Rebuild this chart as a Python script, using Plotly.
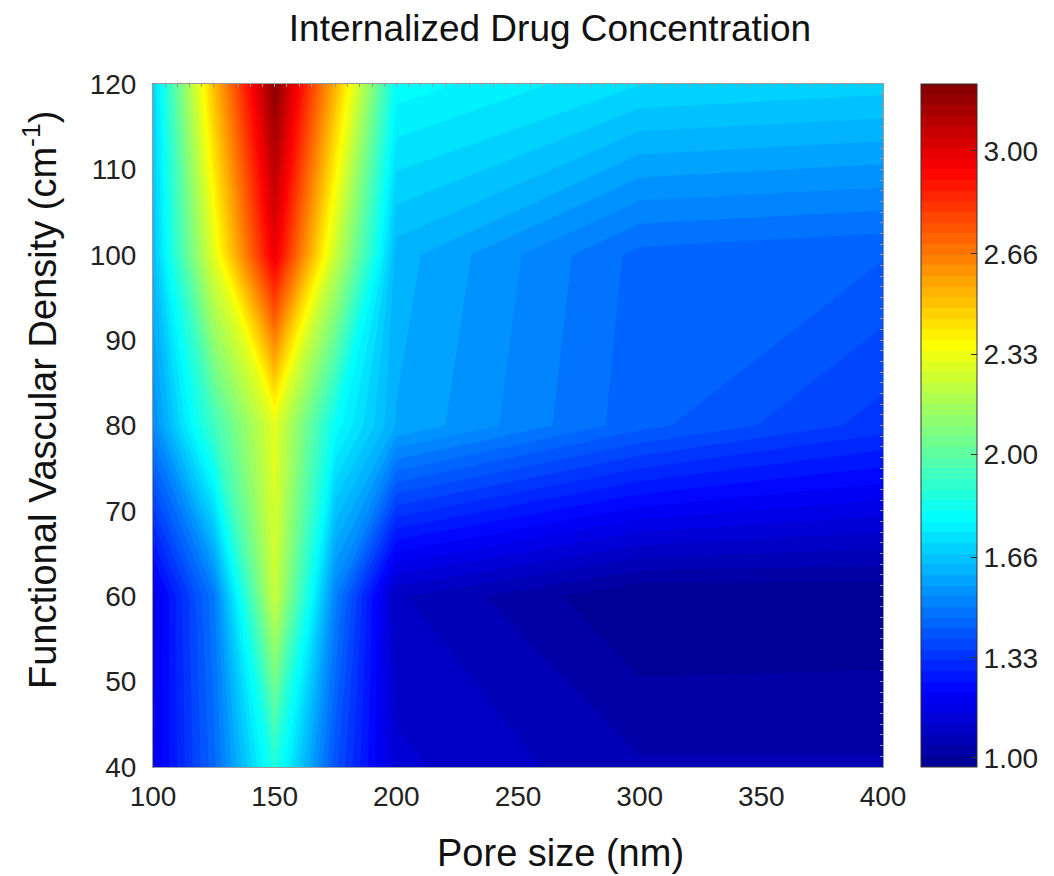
import plotly.graph_objects as go

# Grid of simulated results
pore_size = [100, 125, 150, 175, 200, 300, 400]          # nm
vascular_density = [40, 60, 80, 100, 120]               # cm^-1

# Internalized drug concentration, one row per vascular density
conc_40 = [1.18, 1.45, 1.86, 1.40, 1.12, 1.045, 1.045]
conc_60 = [1.165, 1.49, 2.24, 1.51, 1.08, 0.97, 0.975]
conc_80 = [1.53, 1.93, 2.30, 1.80, 1.60, 1.44, 1.34]
conc_100 = [1.645, 2.30, 2.98, 2.24, 1.62, 1.45, 1.43]
conc_120 = [1.69, 2.51, 3.20, 2.53, 1.80, 1.71, 1.69]

cbar_ticks = [1.00, 1.33, 1.66, 2.00, 2.33, 2.66, 3.00]
cbar_labels = ["1.00", "1.33", "1.66", "2.00", "2.33", "2.66", "3.00"]

z = [conc_40, conc_60, conc_80, conc_100, conc_120]

zmin, zmax = 0.97, 3.22
n_levels = 64

# MATLAB-style jet colormap
jet = [
    [0.0, "rgb(0,0,143)"],
    [0.111, "rgb(0,0,255)"],
    [0.365, "rgb(0,255,255)"],
    [0.619, "rgb(255,255,0)"],
    [0.873, "rgb(255,0,0)"],
    [1.0, "rgb(128,0,0)"],
]

FONT = "Liberation Sans, Arial, sans-serif"
EDGE = "#9a9a9a"

# plot area in pixels
L, R, T, B = 153, 883, 84, 767
W, H = 1054, 876
pw, ph = R - L, B - T

fig = go.Figure()
fig.add_trace(
    go.Contour(
        x=pore_size,
        y=vascular_density,
        z=z,
        colorscale=jet,
        zmin=zmin,
        zmax=zmax,
        autocontour=False,
        contours=dict(start=zmin, end=zmax, size=(zmax - zmin) / n_levels,
                      coloring="fill", showlines=False),
        line=dict(width=0, smoothing=0),
        colorbar=dict(
            x=(921 - L) / pw, xanchor="left", xref="paper",
            y=0, yanchor="bottom", len=1, lenmode="fraction", ypad=0, xpad=0,
            thickness=56, thicknessmode="pixels",
            outlinecolor="#333333", outlinewidth=1,
            tickvals=cbar_ticks, ticktext=cbar_labels,
            ticks="inside", ticklen=6, tickcolor="#333333",
            tickfont=dict(family=FONT, size=28, color="#222222"),
        ),
        showscale=True,
    )
)
# empty trace carrying the top/right frame axes with small inward ticks
fig.add_trace(go.Scatter(x=[], y=[], xaxis="x2", yaxis="y2", showlegend=False,
                         hoverinfo="skip"))

fig.update_layout(
    width=W,
    height=H,
    margin=dict(l=L, r=W - R, t=T, b=H - B, autoexpand=False),
    paper_bgcolor="white",
    plot_bgcolor="white",
    font=dict(family=FONT, color="#111111"),
    title=dict(text="Internalized Drug Concentration", x=550 / W, xanchor="center",
               y=1 - 28 / H, yanchor="middle", font=dict(family=FONT, size=37, color="#111111")),
    xaxis=dict(range=[100, 400], tickvals=[100, 150, 200, 250, 300, 350, 400],
               showline=True, mirror=True, linecolor=EDGE, linewidth=1,
               ticks="", showgrid=False, zeroline=False, ticklabelstandoff=4,
               tickfont=dict(family=FONT, size=28, color="#222222")),
    yaxis=dict(range=[40, 120], tickvals=[40, 50, 60, 70, 80, 90, 100, 110, 120],
               showline=True, mirror=True, linecolor=EDGE, linewidth=1,
               ticks="", showgrid=False, zeroline=False, ticklabelstandoff=10,
               tickfont=dict(family=FONT, size=28, color="#222222")),
    xaxis2=dict(range=[100, 400], overlaying="x", side="top", anchor="y",
                showticklabels=False, ticks="inside", dtick=5, tick0=100,
                ticklen=3, tickcolor=EDGE, tickwidth=1, showgrid=False, zeroline=False),
    yaxis2=dict(range=[40, 120], overlaying="y", side="right", anchor="x",
                showticklabels=False, ticks="inside", dtick=1.25, tick0=40,
                ticklen=3, tickcolor=EDGE, tickwidth=1, showgrid=False, zeroline=False),
    annotations=[
        dict(text="Pore size (nm)", xref="paper", yref="paper",
             x=(560 - L) / pw, y=-(853 - B) / ph, xanchor="center", yanchor="middle",
             showarrow=False, font=dict(family=FONT, size=38, color="#111111")),
        dict(text="Functional Vascular Density (cm<sup>-1</sup>)", xref="paper", yref="paper",
             x=-(L - 40) / pw, y=(B - 400) / ph, xanchor="center", yanchor="middle",
             textangle=-90, showarrow=False, font=dict(family=FONT, size=38, color="#111111")),
    ],
)

fig.write_html("out.html")
